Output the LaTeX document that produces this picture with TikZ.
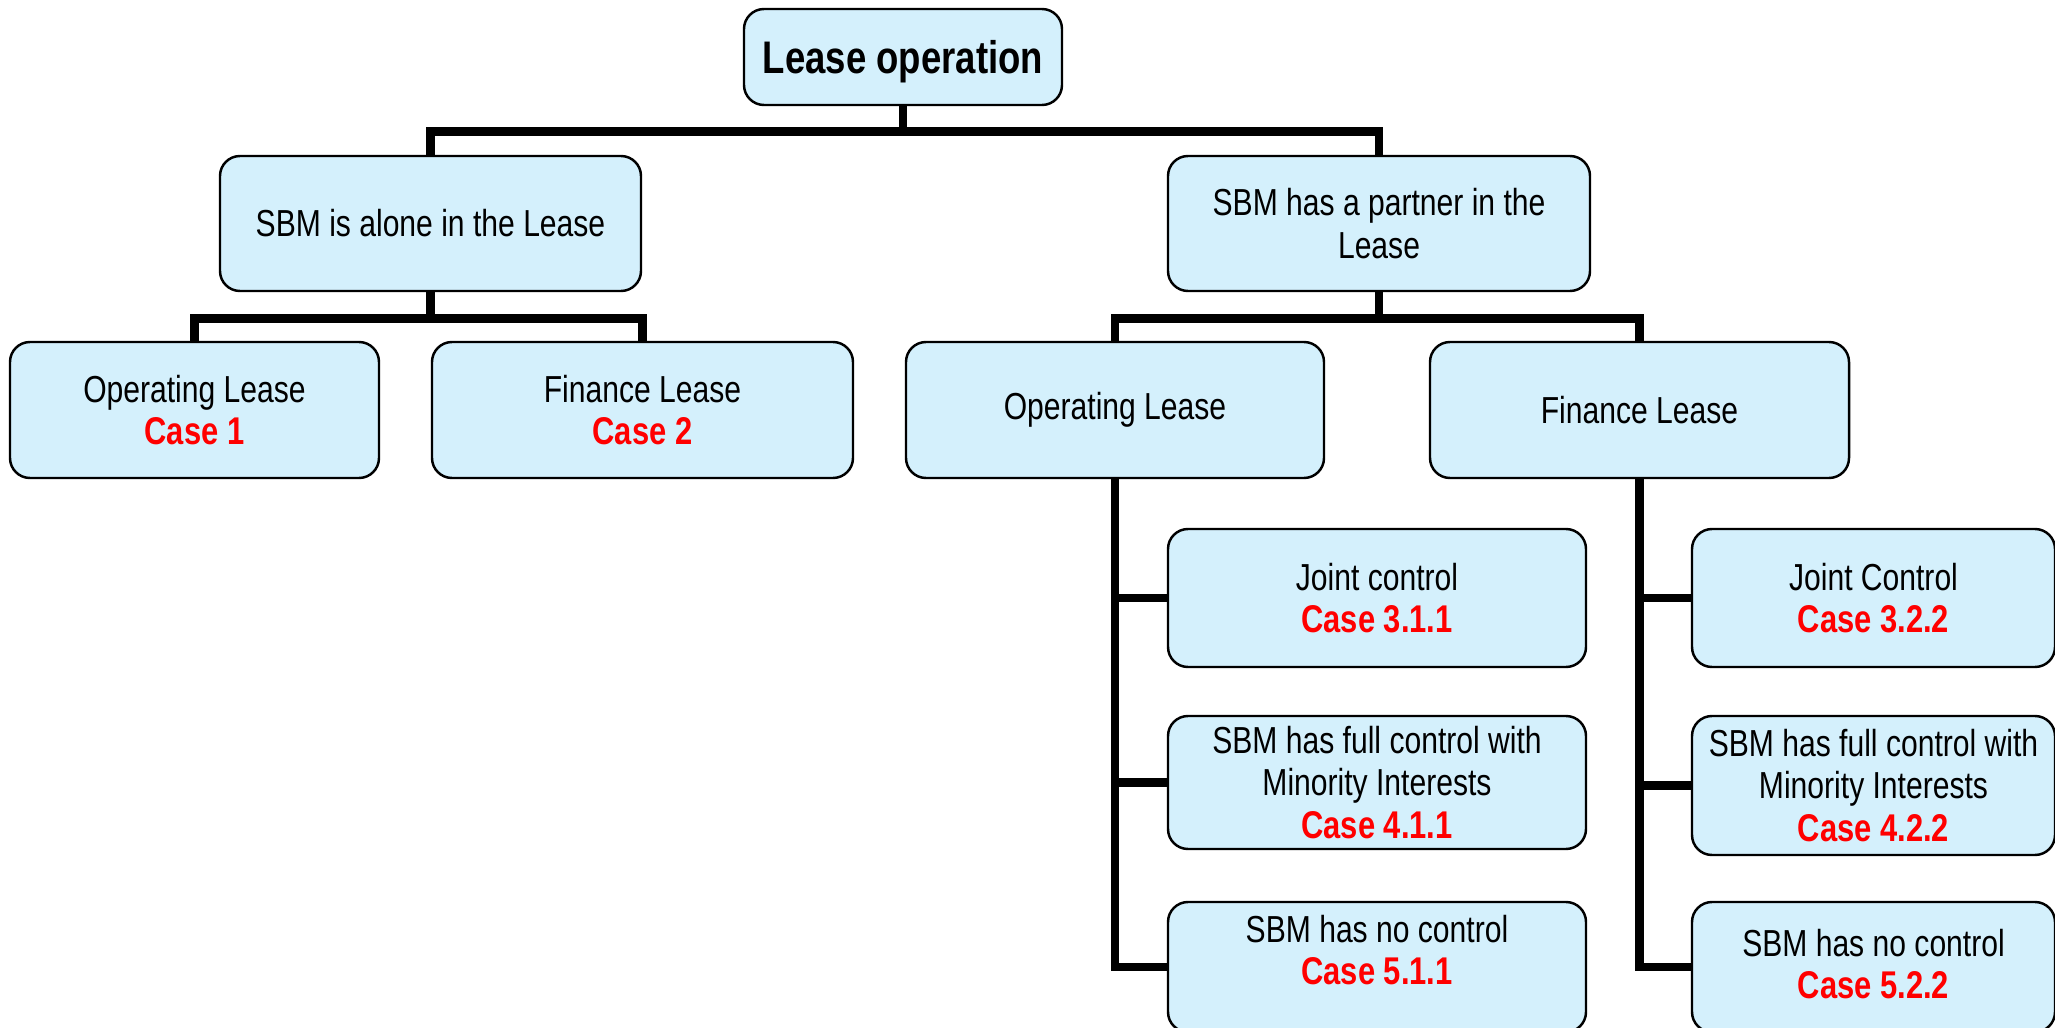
\documentclass[tikz,border=0pt]{standalone}
\usepackage{fontspec}
\setmainfont{Liberation Sans}[FakeStretch=0.8]
\usepackage{tikz}

\definecolor{boxblue}{RGB}{212,240,252}
\newcommand{\casetext}[1]{\textcolor{red}{\bfseries\fontsize{11}{12}\selectfont #1}}

\begin{document}
\begin{tikzpicture}[
    box/.style={draw=black, line width=0.7pt, fill=boxblue, rounded corners=0.2cm,
        align=center, inner sep=0pt, font=\fontsize{10.7}{12}\selectfont},
    txt/.style={align=center, inner sep=0pt, font=\fontsize{10.7}{12}\selectfont},
    link/.style={line width=2.5pt, line join=miter}
]
    \useasboundingbox (0,0) rectangle (20.55,-10.28);
    \clip (0,0) rectangle (20.55,-10.28);

    % Root and first split
    \node[box, minimum width=3.18cm, minimum height=0.96cm, text depth=0pt,
        font=\bfseries\fontsize{13}{15}\selectfont] (root) at (9.03,-0.57) {Lease operation};
    \node[box, minimum width=4.21cm, minimum height=1.35cm] (alone) at (4.305,-2.235) {SBM is alone in the Lease};
    \node[box, minimum width=4.22cm, minimum height=1.35cm] (partner) at (13.79,-2.235) {SBM has a partner in the\\Lease};

    % Lease types
    \node[box, minimum width=3.69cm, minimum height=1.36cm] (opL) at (1.945,-4.10) {Operating Lease\\\casetext{Case 1}};
    \node[box, minimum width=4.21cm, minimum height=1.36cm] (fiL) at (6.425,-4.10) {Finance Lease\\\casetext{Case 2}};
    \node[box, minimum width=4.18cm, minimum height=1.36cm] (opR) at (11.15,-4.10) {Operating Lease};
    \node[box, minimum width=4.19cm, minimum height=1.36cm] (fiR) at (16.395,-4.10) {Finance Lease};

    % Control cases under operating lease
    \node[box, minimum width=4.18cm, minimum height=1.38cm] (joint1) at (13.77,-5.98) {Joint control\\\casetext{Case 3.1.1}};
    \node[box, minimum width=4.18cm, minimum height=1.33cm] (full1) at (13.77,-7.825) {SBM has full control with\\Minority Interests\\\casetext{Case 4.1.1}};
    \node[box, minimum width=4.18cm, minimum height=1.30cm] (none1) at (13.77,-9.67) {};
    \node[txt] (none1 text) at (13.77,-9.50) {SBM has no control\\\casetext{Case 5.1.1}};

    % Control cases under finance lease
    \node[box, minimum width=3.63cm, minimum height=1.38cm] (joint2) at (18.735,-5.98) {Joint Control\\\casetext{Case 3.2.2}};
    \node[box, minimum width=3.63cm, minimum height=1.39cm] (full2) at (18.735,-7.855) {SBM has full control with\\Minority Interests\\\casetext{Case 4.2.2}};
    \node[box, minimum width=3.63cm, minimum height=1.30cm] (none2) at (18.735,-9.67) {};
    \node[txt] (none2 text) at (18.735,-9.64) {SBM has no control\\\casetext{Case 5.2.2}};

    % Connectors
    \draw[link] (root.south) -- ++(0,-0.25) -| (alone.north);
    \draw[link] (root.south) -- ++(0,-0.25) -| (partner.north);
    \draw[link] (alone.south) -- ++(0,-0.26) -| (opL.north);
    \draw[link] (alone.south) -- ++(0,-0.26) -| (fiL.north);
    \draw[link] (partner.south) -- ++(0,-0.26) -| (opR.north);
    \draw[link] (partner.south) -- ++(0,-0.26) -| (fiR.north);
    \foreach \c in {joint1,full1,none1} {
        \draw[link] (opR.south) |- (\c.west);
    }
    \foreach \c in {joint2,full2,none2} {
        \draw[link] (fiR.south) |- (\c.west);
    }
\end{tikzpicture}
\end{document}
